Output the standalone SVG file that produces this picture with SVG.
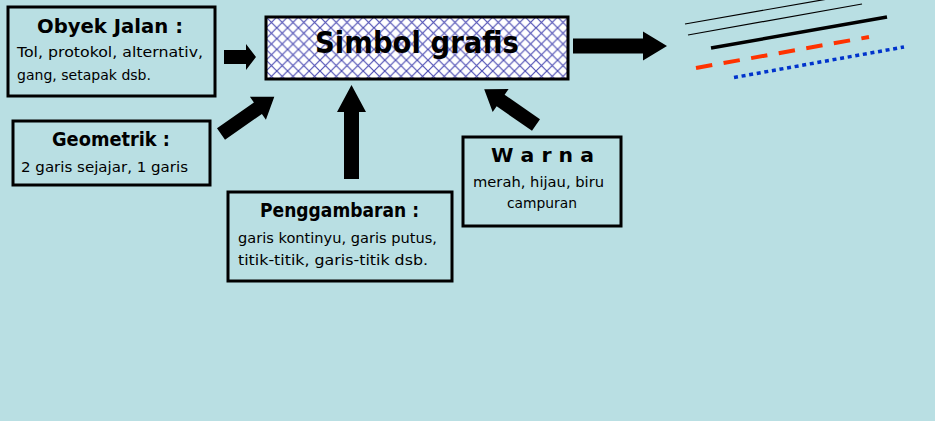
<svg xmlns="http://www.w3.org/2000/svg" width="935" height="421" viewBox="0 0 935 421">
<defs>
<pattern id="hatch" patternUnits="userSpaceOnUse" width="10.8" height="10.8" x="266" y="17">
<rect width="10.8" height="10.8" fill="#ffffff"/>
<path d="M0,0 L10.8,10.8 M10.8,0 L0,10.8" stroke="#4f4fb4" stroke-width="1.2" fill="none"/>
</pattern>
<style>
.box{fill:none;stroke:#000;stroke-width:3}
.t{font-family:"Comic Sans MS","DejaVu Sans",sans-serif;fill:#000}
.h{font-size:19px;font-weight:bold}
.b{font-size:14.5px}
.arr{fill:#000}
</style>
</defs>
<rect width="935" height="421" fill="#b9dfe3"/>

<g id="simbol-grafis">
<rect x="266" y="17" width="302" height="62" fill="url(#hatch)" stroke="#000" stroke-width="3"/>
<text class="t" x="315" y="53" font-size="31" font-weight="bold" textLength="204" lengthAdjust="spacingAndGlyphs">Simbol grafis</text>
</g>

<g id="obyek-jalan">
<rect class="box" x="8" y="7" width="207" height="89"/>
<text class="t h" x="37" y="33" textLength="146" lengthAdjust="spacingAndGlyphs">Obyek Jalan :</text>
<text class="t b" x="17" y="57" textLength="186" lengthAdjust="spacingAndGlyphs">Tol, protokol, alternativ,</text>
<text class="t b" x="17" y="80" textLength="134" lengthAdjust="spacingAndGlyphs">gang, setapak dsb.</text>
</g>

<g id="geometrik">
<rect class="box" x="13" y="121" width="197" height="64"/>
<text class="t h" x="52" y="146" textLength="118" lengthAdjust="spacingAndGlyphs">Geometrik :</text>
<text class="t b" x="21" y="172" textLength="167" lengthAdjust="spacingAndGlyphs">2 garis sejajar, 1 garis</text>
</g>

<g id="penggambaran">
<rect class="box" x="228" y="192" width="224" height="89"/>
<text class="t h" x="260" y="217" textLength="159" lengthAdjust="spacingAndGlyphs">Penggambaran :</text>
<text class="t b" x="238" y="243" textLength="199" lengthAdjust="spacingAndGlyphs">garis kontinyu, garis putus,</text>
<text class="t b" x="238" y="265" textLength="190" lengthAdjust="spacingAndGlyphs">titik-titik, garis-titik dsb.</text>
</g>

<g id="warna">
<rect class="box" x="463" y="137" width="158" height="89"/>
<text class="t h" x="491" y="162" textLength="103" lengthAdjust="spacingAndGlyphs">W a r n a</text>
<text class="t b" x="473" y="187" textLength="131" lengthAdjust="spacingAndGlyphs">merah, hijau, biru</text>
<text class="t b" x="507" y="208" textLength="70" lengthAdjust="spacingAndGlyphs">campuran</text>
</g>

<g id="garis-contoh">
<line x1="685" y1="24" x2="862" y2="-7" stroke="#000" stroke-width="1.2"/>
<line x1="688" y1="35" x2="862" y2="4" stroke="#000" stroke-width="1.2"/>
<line x1="711" y1="48" x2="887" y2="17" stroke="#000" stroke-width="3.5"/>
<line x1="696" y1="68" x2="869" y2="37" stroke="#ff3300" stroke-width="4" stroke-dasharray="16.5 11.5"/>
<line x1="734" y1="77.5" x2="904" y2="47" stroke="#0033cc" stroke-width="3.5" stroke-dasharray="4 3.7"/>
</g>

<g id="connectors">
<path class="arr" transform="translate(224,57)" d="M0,-7 L22,-7 L22,-13 L32,0 L22,13 L22,7 L0,7 Z"/>
<path class="arr" transform="translate(573,46)" d="M0,-7.5 L70,-7.5 L70,-14.5 L94,0 L70,14.5 L70,7.5 L0,7.5 Z"/>
<path class="arr" transform="translate(221,134) rotate(-34.9)" d="M0,-7 L45,-7 L45,-14 L65,0 L45,14 L45,7 L0,7 Z"/>
<path class="arr" transform="translate(351.5,179) rotate(-90)" d="M0,-7.5 L67,-7.5 L67,-14.5 L94,0 L67,14.5 L67,7.5 L0,7.5 Z"/>
<path class="arr" transform="translate(536,125) rotate(-145.3)" d="M0,-7 L43,-7 L43,-14 L63,0 L43,14 L43,7 L0,7 Z"/>
</g>
</svg>
